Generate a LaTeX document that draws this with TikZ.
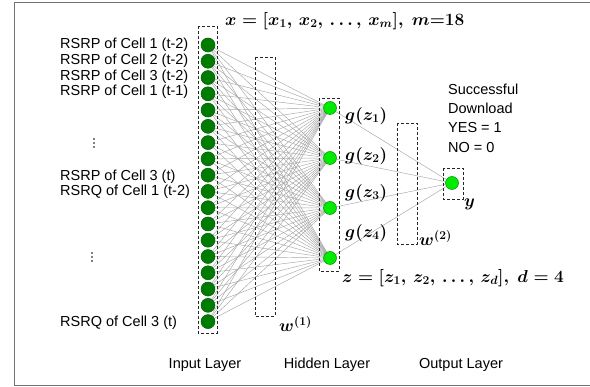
\documentclass[tikz,border=0pt]{standalone}
\usepackage{fontspec}
\setmainfont{Liberation Sans}
\usetikzlibrary{backgrounds}
\definecolor{darkgr}{RGB}{0,125,0}
\definecolor{darkgrline}{RGB}{0,90,0}
\definecolor{brightgr}{RGB}{0,235,0}
\definecolor{brightgrline}{RGB}{0,140,0}
\tikzset{
  innode/.style={circle, fill=darkgr, draw=darkgrline, line width=0.5pt, minimum size=14pt, inner sep=0pt},
  hidnode/.style={circle, fill=brightgr, draw=brightgrline, line width=0.5pt, minimum size=13pt, inner sep=0pt},
  dashbox/.style={draw=black!85, dashed, dash pattern=on 3pt off 2pt, line width=0.7pt},
  conn/.style={draw=black!35, line width=0.45pt},
  lab/.style={font=\fontsize{14.5}{16}\selectfont, anchor=west, inner sep=0pt},
  mth/.style={font=\fontsize{18.5}{20}\selectfont\boldmath, inner sep=0pt},
  frame/.style={draw=black!55, line width=1.3pt},
  vdot/.style={circle, fill=black, inner sep=0pt, minimum size=1.6pt}
}
\begin{document}
\begin{tikzpicture}[x=1pt,y=-1pt]
\useasboundingbox (0,0) rectangle (590,387);
\clip (0,0) rectangle (590,387);
\draw[frame] (600,2.5) -- (14.5,2.5) -- (14.5,385.5) -- (600,385.5);
% nodes
\foreach \i in {1,...,18} \node[innode] (i\i) at (208,{45+(\i-1)*16.27}) {};
\foreach \j in {1,...,4} \node[hidnode] (h\j) at (330,{108+(\j-1)*50}) {};
\node[hidnode] (o) at (452,183) {};
% connectors
\begin{scope}[on background layer]
\foreach \i in {1,...,18} \foreach \j in {1,...,4} \draw[conn] (i\i) -- (h\j);
\foreach \j in {1,...,4} \draw[conn] (h\j) -- (o);
\end{scope}
% dashed boxes
\draw[dashbox] (198,26) rectangle (217,333);
\draw[dashbox] (255,57) rectangle (275,316);
\draw[dashbox] (319,98) rectangle (339,271);
\draw[dashbox] (397,123) rectangle (417,244);
\draw[dashbox] (443,168) rectangle (463,199);
% input labels
\node[lab] (l1) at (60,45) {RSRP of Cell 1 (t-2)};
\node[lab] (l2) at (60,61) {RSRP of Cell 2 (t-2)};
\node[lab] (l3) at (60,76.5) {RSRP of Cell 3 (t-2)};
\node[lab] (l4) at (60,92) {RSRP of Cell 1 (t-1)};
\foreach \k in {0,1,2} \node[vdot] (da\k) at (94,{139+\k*4}) {};
\node[lab] (l9) at (60,177) {RSRP of Cell 3 (t)};
\node[lab] (l10) at (60,192) {RSRQ of Cell 1 (t-2)};
\foreach \k in {0,1,2} \node[vdot] (db\k) at (92,{253+\k*4}) {};
\node[lab] (l18) at (60,323) {RSRQ of Cell 3 (t)};
% math labels
\node[mth, anchor=west] (xf) at (225,21) {$x=[x_1,\, x_2,\, \ldots,\, x_m],\ m{=}18$};
\node[mth, anchor=west] (g1) at (345,116) {$g(z_1)$};
\node[mth, anchor=west] (g2) at (345,156) {$g(z_2)$};
\node[mth, anchor=west] (g3) at (345,193) {$g(z_3)$};
\node[mth, anchor=west] (g4) at (345,233) {$g(z_4)$};
\node[mth, anchor=west] (zf) at (342,278) {$z=[z_1,\, z_2,\, \ldots,\, z_d],\ d=4$};
\node[mth, anchor=west] (w1) at (279,324) {$w^{(1)}$};
\node[mth, anchor=west] (w2) at (419,238) {$w^{(2)}$};
\node[mth, anchor=west] (yl) at (464,204) {$y$};
% output text
\node[lab] (s1) at (448,89) {Successful};
\node[lab] (s2) at (448,108.5) {Download};
\node[lab] (s3) at (448,128) {YES = 1};
\node[lab] (s4) at (448,147.5) {NO = 0};
% layer titles
\node[lab, anchor=center] (t1) at (205,365) {Input Layer};
\node[lab, anchor=center] (t2) at (327,365) {Hidden Layer};
\node[lab, anchor=center] (t3) at (461,365) {Output Layer};
\end{tikzpicture}
\end{document}
